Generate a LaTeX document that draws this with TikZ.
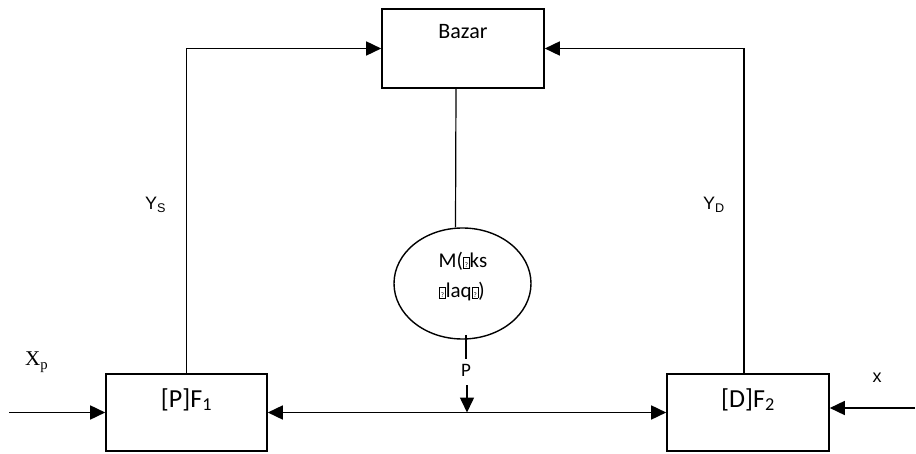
\documentclass[tikz,border=0pt]{standalone}
\usepackage{fontspec}
\setmainfont{Carlito}
\newfontfamily\arialfont{Liberation Sans}
\newfontfamily\timesfont{Liberation Serif}
\usetikzlibrary{arrows.meta,shapes.geometric}

% box drawn in place of a glyph the font lacks
\newcommand{\missglyph}{{\fboxsep=0pt\fboxrule=0.6pt\fbox{\rule{0pt}{10.5pt}\makebox[5.5pt]{\fontsize{7}{7}\selectfont ?}}}}

\begin{document}
\begin{tikzpicture}[x=1pt,y=-1pt,
    box/.style={draw,line width=1.6pt,inner sep=0pt},
    arr/.style={line width=1.6pt,-{Triangle[length=15pt,width=14pt]}},
    thinline/.style={line width=1.2pt},
    lbl/.style={inner sep=0pt,anchor=base}]
\useasboundingbox (0,0) rectangle (916,454);

% Blocks
\node[box,minimum width=162pt,minimum height=79pt] (bazar) at (463,48.5) {};
\node[box,minimum width=161pt,minimum height=77pt] (f1) at (186.5,412.5) {};
\node[box,minimum width=162pt,minimum height=77pt] (f2) at (748,412.5) {};
\node[draw,ellipse,line width=1.4pt,minimum width=137pt,minimum height=111pt,inner sep=0pt] (ell) at (462.5,283.5) {};

% Block texts
\node[lbl,font=\fontsize{22}{26}\selectfont] (bazartxt) at (463,39) {Bazar};
\node[lbl,font=\fontsize{26}{30}\selectfont] (f1txt) at (186.5,407) {[P]F\textsubscript{1}};
\node[lbl,font=\fontsize{26}{30}\selectfont] (f2txt) at (748,407) {[D]F\textsubscript{2}};
\node[lbl,font=\fontsize{21}{24}\selectfont] (elltop) at (463,268) {M(\missglyph ks};
\node[lbl,font=\fontsize{21}{24}\selectfont] (ellbot) at (462,298) {\missglyph laq\missglyph)};

% Labels
\node[lbl,anchor=base west,font=\arialfont\fontsize{18}{20}\selectfont] (ys) at (145,210) {Y\textsubscript{S}};
\node[lbl,anchor=base west,font=\arialfont\fontsize{18}{20}\selectfont] (yd) at (703,210) {Y\textsubscript{D}};
\node[lbl,font=\arialfont\fontsize{18}{20}\selectfont] (xd) at (877,383) {x};
\node[lbl,anchor=base west,font=\timesfont\fontsize{21}{24}\selectfont] (xp) at (25,366) {X\textsubscript{p}};
\node[lbl,font=\fontsize{19}{22}\selectfont] (plbl) at (466,377) {P};

% Inputs
\coordinate (xpin) at (9,412.5);
\coordinate (xdin) at (915,408);
\draw[arr] (xpin) -- (f1.west);
\draw[arr] (xdin) -- (xdin -| f2.east);

% Link between the two blocks
\draw[line width=1.6pt,{Triangle[length=15pt,width=14pt]}-{Triangle[length=15pt,width=14pt]}] (f1.east) -- (f2.west);

% Feedback to the market
\draw[arr] (f1.north) |- (bazar.west);
\draw[arr] ([xshift=-4pt]f2.north) |- (bazar.east);

% Market and price
\draw[thinline] ([xshift=-7pt]bazar.south) -- ([xshift=-7pt]ell.north);
\coordinate (pa) at (466,335);
\coordinate (pb) at (466,359);
\draw[thinline] (pa) -- (pb);
\coordinate (pc) at (467,385);
\draw[arr] (pc) -- (pc |- f1.east);
\end{tikzpicture}
\end{document}
